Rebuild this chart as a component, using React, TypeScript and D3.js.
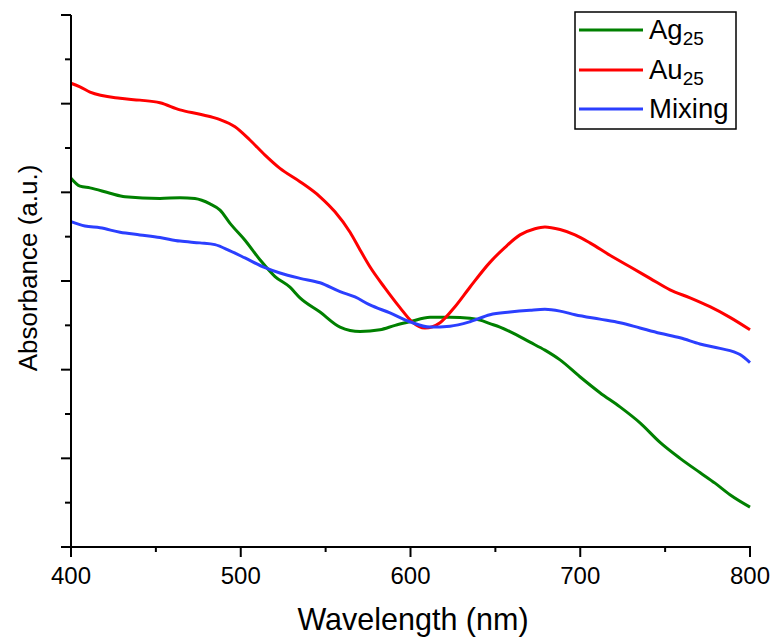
import React from "react";
import * as d3 from "d3";

const xTicks = [400, 500, 600, 700, 800];

const ag25Wl = [400, 405.3, 411.2, 423, 431.8, 452.4, 464.2, 473, 481.9, 487.8, 493.7, 502.5, 511.3, 520.2, 529, 534.9, 546.7, 558.5, 570.3, 582, 590.9, 599.7, 611.5, 623.3, 635, 640.9, 646.8, 652.7, 658.6, 670.4, 679.2, 688.1, 699.8, 711.6, 723.4, 735.2, 747, 758.8, 770.5, 779.4, 788.2, 800];
const ag25Abs = [4.16, 4.07, 4.05, 3.99, 3.95, 3.93, 3.94, 3.93, 3.87, 3.8, 3.65, 3.46, 3.24, 3.05, 2.93, 2.81, 2.65, 2.48, 2.43, 2.45, 2.5, 2.54, 2.59, 2.59, 2.58, 2.56, 2.52, 2.48, 2.43, 2.31, 2.22, 2.11, 1.92, 1.74, 1.58, 1.4, 1.18, 1.0, 0.84, 0.72, 0.59, 0.45];

const au25Wl = [400, 405.3, 411.2, 428.9, 440.6, 452.4, 464.2, 476, 487.8, 496.6, 505.4, 514.3, 523.1, 534.9, 546.7, 555.5, 564.4, 570.3, 576.1, 585, 593.8, 600.9, 608.5, 617.4, 626.2, 635, 646.8, 655.7, 664.5, 673.3, 679.2, 688.1, 696.9, 705.7, 717.5, 729.3, 741.1, 752.9, 764.7, 776.4, 788.2, 800];
const au25Abs = [5.23, 5.19, 5.13, 5.06, 5.04, 5.01, 4.93, 4.88, 4.82, 4.74, 4.59, 4.42, 4.27, 4.12, 3.95, 3.78, 3.55, 3.35, 3.16, 2.92, 2.7, 2.54, 2.47, 2.53, 2.71, 2.93, 3.21, 3.38, 3.52, 3.59, 3.61, 3.58, 3.52, 3.43, 3.29, 3.16, 3.03, 2.9, 2.81, 2.71, 2.59, 2.45];

const mixWl = [400, 408.2, 417.1, 428.9, 440.6, 452.4, 464.2, 476, 484.8, 493.7, 502.5, 514.3, 523.1, 534.9, 546.7, 558.5, 567.3, 576.1, 587.9, 599.7, 611.5, 623.3, 635, 646.8, 658.6, 670.4, 679.2, 688.1, 696.9, 711.6, 723.4, 735.2, 747, 758.8, 770.5, 782.3, 794.1, 800];
const mixAbs = [3.67, 3.62, 3.6, 3.55, 3.52, 3.49, 3.45, 3.43, 3.41, 3.34, 3.26, 3.15, 3.09, 3.03, 2.98, 2.88, 2.82, 2.73, 2.64, 2.54, 2.48, 2.49, 2.54, 2.62, 2.65, 2.67, 2.68, 2.66, 2.62, 2.57, 2.53, 2.47, 2.41, 2.36, 2.29, 2.24, 2.17, 2.08];

const seriesNames = ["Ag", "Au", "Mixing"];
const seriesSubs = ["25", "25", ""];
const seriesColors = ["#008000", "#ff0000", "#2b3fff"];

const W = 775;
const H = 637;
const left = 71;
const right = 750;
const top = 15;
const bottom = 547;
const FONT = "'Liberation Sans', Arial, sans-serif";

export default function App() {
  const x = d3.scaleLinear().domain([400, 800]).range([left, right]);
  const y = d3.scaleLinear().domain([0, 6]).range([bottom, top]);
  const line = d3
    .line<[number, number]>()
    .x((d) => x(d[0]))
    .y((d) => y(d[1]))
    .curve(d3.curveMonotoneX);

  const series = [
    ag25Wl.map((w, i) => [w, ag25Abs[i]] as [number, number]),
    au25Wl.map((w, i) => [w, au25Abs[i]] as [number, number]),
    mixWl.map((w, i) => [w, mixAbs[i]] as [number, number]),
  ];

  const xMinor = d3.range(450, 800, 100);
  const yMajor = d3.range(0, 7, 1);
  const yMinor = d3.range(0.5, 6, 1);

  const legX = 575;
  const legY = 12;
  const rowYs = [30, 70, 109];

  return (
    <svg
      width={W}
      height={H}
      style={{ position: "absolute", left: 0, top: 0, background: "#fff" }}
      fontFamily={FONT}
    >
      <rect x={0} y={0} width={W} height={H} fill="#fff" />
      {series.map((s, i) => (
        <path
          key={i}
          d={line(s) || ""}
          fill="none"
          stroke={seriesColors[i]}
          strokeWidth={3}
          strokeLinejoin="round"
        />
      ))}
      {/* axes */}
      <line x1={left} x2={left} y1={top} y2={bottom} stroke="#000" strokeWidth={2} />
      <line x1={left - 10} x2={right + 1} y1={bottom} y2={bottom} stroke="#000" strokeWidth={2} />
      {yMajor.map((v) => (
        <line key={"ym" + v} x1={left - 10} x2={left} y1={y(v)} y2={y(v)} stroke="#000" strokeWidth={2} />
      ))}
      {yMinor.map((v) => (
        <line key={"yn" + v} x1={left - 6} x2={left} y1={y(v)} y2={y(v)} stroke="#000" strokeWidth={2} />
      ))}
      {xTicks.map((v) => (
        <g key={"x" + v}>
          <line x1={x(v)} x2={x(v)} y1={bottom} y2={bottom + 10} stroke="#000" strokeWidth={2} />
          <text x={x(v)} y={584} textAnchor="middle" fontSize={24} fill="#000">
            {v}
          </text>
        </g>
      ))}
      {xMinor.map((v) => (
        <line key={"xn" + v} x1={x(v)} x2={x(v)} y1={bottom} y2={bottom + 5} stroke="#000" strokeWidth={2} />
      ))}
      <text x={413} y={630} textAnchor="middle" fontSize={30.5} fill="#000">
        Wavelength (nm)
      </text>
      <text
        transform={`translate(37, 268) rotate(-90)`}
        textAnchor="middle"
        fontSize={26}
        fill="#000"
      >
        Absorbance (a.u.)
      </text>
      {/* legend */}
      <rect x={legX} y={legY} width={161} height={117} fill="#fff" stroke="#000" strokeWidth={1.5} />
      {seriesNames.map((n, i) => (
        <g key={"lg" + i}>
          <line x1={579} x2={643} y1={rowYs[i]} y2={rowYs[i]} stroke={seriesColors[i]} strokeWidth={3} />
          <text x={649} y={rowYs[i] + 9} fontSize={27.5} fill="#000">
            {n}
            {seriesSubs[i] ? (
              <tspan fontSize={19} dy={6}>
                {seriesSubs[i]}
              </tspan>
            ) : null}
          </text>
        </g>
      ))}
    </svg>
  );
}
